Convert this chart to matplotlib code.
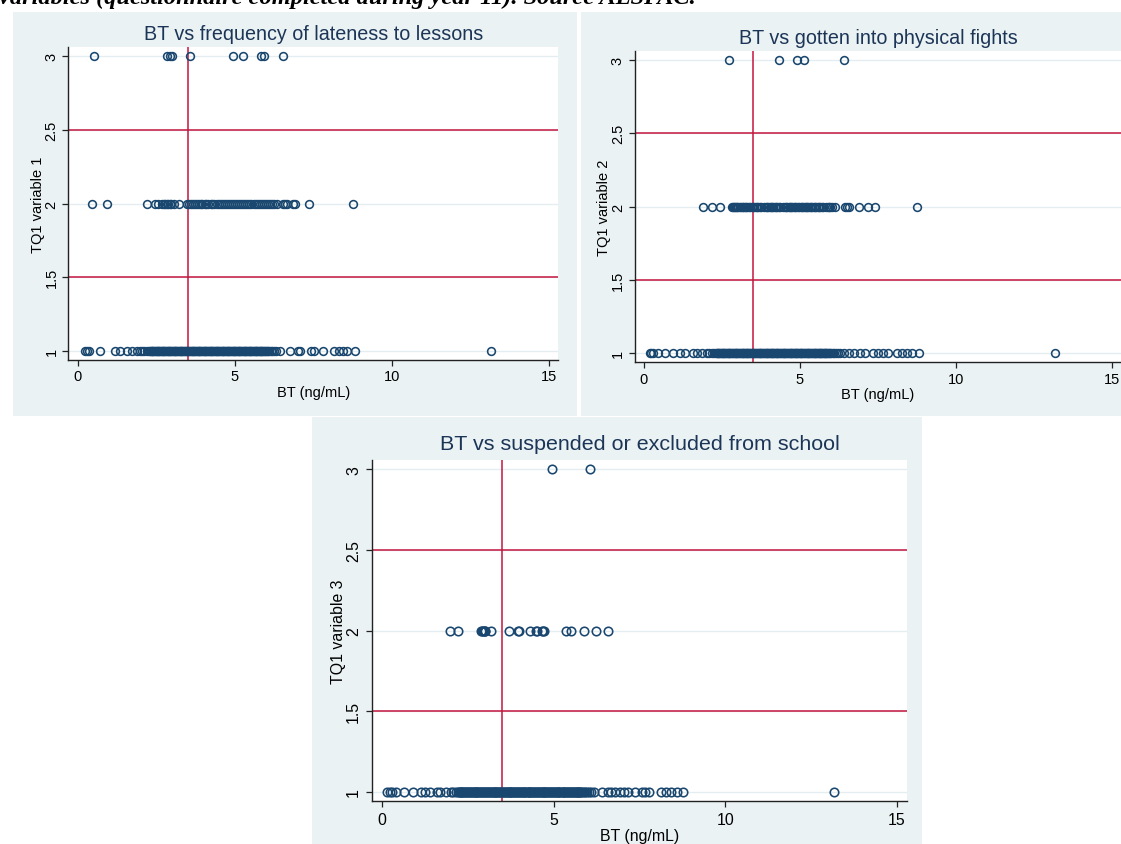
import matplotlib
matplotlib.use("Agg")
import matplotlib.pyplot as plt
from matplotlib.patches import Rectangle

# ---------------------------------------------------------------- data
titles = [
    "BT vs frequency of lateness to lessons",
    "BT vs gotten into physical fights",
    "BT vs suspended or excluded from school",
]
ylabels = ["TQ1 variable 1", "TQ1 variable 2", "TQ1 variable 3"]
xlabel = "BT (ng/mL)"
xticks = [0, 5, 10, 15]
yticks = [1, 1.5, 2, 2.5, 3]
ytick_labels = ["1", "1.5", "2", "2.5", "3"]
bt_cutoff = 3.5
category_cutoffs = [1.5, 2.5]
caption = "variables (questionnaire completed during year 11). Source ALSPAC."

# Panel 1: lateness to lessons (BT values per response category)
late_1 = [0.24, 0.30, 0.35, 0.72, 1.20, 1.36, 1.57, 1.73, 1.89, 1.97, 2.05, 2.12,
          2.21, 2.26, 2.30, 2.33, 2.35, 2.38, 2.41, 2.43, 2.46, 2.49, 2.52, 2.54,
          2.57, 2.60, 2.62, 2.65, 2.68, 2.71, 2.73, 2.76, 2.79, 2.81, 2.84, 2.87,
          2.90, 2.92, 2.95, 2.98, 3.00, 3.03, 3.06, 3.09, 3.11, 3.14, 3.17, 3.19,
          3.22, 3.25, 3.28, 3.30, 3.33, 3.36, 3.38, 3.41, 3.44, 3.47, 3.49, 3.52,
          3.55, 3.57, 3.60, 3.63, 3.66, 3.68, 3.71, 3.74, 3.76, 3.79, 3.82, 3.85,
          3.87, 3.90, 3.93, 3.95, 3.98, 4.01, 4.04, 4.06, 4.09, 4.12, 4.14, 4.17,
          4.20, 4.23, 4.25, 4.28, 4.31, 4.33, 4.36, 4.39, 4.42, 4.44, 4.47, 4.50,
          4.52, 4.55, 4.58, 4.61, 4.63, 4.66, 4.69, 4.71, 4.74, 4.77, 4.80, 4.82,
          4.85, 4.88, 4.90, 4.93, 4.96, 4.99, 5.01, 5.04, 5.07, 5.09, 5.12, 5.15,
          5.18, 5.20, 5.23, 5.26, 5.28, 5.31, 5.34, 5.37, 5.39, 5.42, 5.45, 5.47,
          5.50, 5.53, 5.56, 5.58, 5.61, 5.64, 5.66, 5.69, 5.72, 5.75, 5.77, 5.80,
          5.83, 5.85, 5.88, 5.91, 5.94, 5.96, 5.99, 6.02, 6.05, 6.09, 6.14, 6.19,
          6.25, 6.31, 6.44, 6.76, 7.00, 7.08, 7.42, 7.52, 7.82, 8.16, 8.33, 8.45,
          8.58, 8.82, 13.17]
late_2 = [0.46, 0.93, 2.22, 2.47, 2.57, 2.68, 2.74, 2.79, 2.84, 2.89, 2.93, 2.96,
          3.05, 3.21, 3.48, 3.54, 3.60, 3.66, 3.72, 3.79, 3.86, 3.91, 3.97, 4.04,
          4.09, 4.16, 4.23, 4.29, 4.35, 4.42, 4.49, 4.55, 4.62, 4.68, 4.75, 4.81,
          4.88, 4.94, 5.01, 5.07, 5.14, 5.20, 5.27, 5.33, 5.40, 5.46, 5.53, 5.60,
          5.66, 5.73, 5.80, 5.86, 5.92, 5.99, 6.06, 6.12, 6.19, 6.26, 6.34, 6.55,
          6.60, 6.65, 6.86, 6.92, 7.37, 8.75]
late_3 = [0.51, 2.84, 2.95, 3.01, 3.56, 4.94, 5.26, 5.84, 5.93, 6.55]

# Panel 2: physical fights
fight_1 = [0.19, 0.24, 0.30, 0.46, 0.67, 0.94, 1.16, 1.32, 1.58, 1.69, 1.85,
           2.01, 2.09, 2.17, 2.25, 2.30, 2.33, 2.36, 2.39, 2.41, 2.44, 2.47,
           2.50, 2.52, 2.55, 2.58, 2.61, 2.63, 2.66, 2.69, 2.72, 2.74, 2.77,
           2.80, 2.83, 2.85, 2.88, 2.91, 2.94, 2.96, 2.99, 3.02, 3.05, 3.07,
           3.10, 3.13, 3.16, 3.18, 3.21, 3.24, 3.27, 3.29, 3.32, 3.35, 3.38,
           3.40, 3.43, 3.46, 3.49, 3.51, 3.54, 3.57, 3.60, 3.62, 3.65, 3.68,
           3.71, 3.73, 3.76, 3.79, 3.82, 3.84, 3.87, 3.90, 3.93, 3.95, 3.98,
           4.01, 4.04, 4.06, 4.09, 4.12, 4.15, 4.17, 4.20, 4.23, 4.26, 4.28,
           4.31, 4.34, 4.37, 4.39, 4.42, 4.45, 4.48, 4.50, 4.53, 4.56, 4.59,
           4.61, 4.64, 4.67, 4.70, 4.72, 4.75, 4.78, 4.81, 4.83, 4.86, 4.89,
           4.92, 4.94, 4.97, 5.00, 5.03, 5.05, 5.08, 5.11, 5.14, 5.16, 5.19,
           5.22, 5.25, 5.27, 5.30, 5.33, 5.36, 5.38, 5.41, 5.44, 5.47, 5.49,
           5.52, 5.55, 5.58, 5.60, 5.63, 5.66, 5.69, 5.71, 5.74, 5.77, 5.80,
           5.82, 5.85, 5.88, 5.91, 5.94, 5.97, 6.01, 6.05, 6.10, 6.15, 6.21,
           6.29, 6.40, 6.56, 6.72, 6.93, 7.09, 7.36, 7.52, 7.68, 7.84, 8.11,
           8.27, 8.43, 8.59, 8.81, 13.17]
fight_2 = [1.90, 2.17, 2.44, 2.81, 2.84, 2.88, 2.92, 2.95, 2.99, 3.03, 3.07,
           3.12, 3.16, 3.19, 3.24, 3.28, 3.32, 3.36, 3.41, 3.45, 3.49, 3.54,
           3.58, 3.62, 3.67, 3.71, 3.75, 3.86, 3.90, 3.94, 3.98, 4.03, 4.07,
           4.11, 4.15, 4.20, 4.24, 4.28, 4.32, 4.37, 4.47, 4.51, 4.55, 4.59,
           4.64, 4.68, 4.72, 4.76, 4.81, 4.85, 4.89, 4.93, 4.98, 5.02, 5.06,
           5.10, 5.15, 5.19, 5.23, 5.27, 5.32, 5.36, 5.40, 5.44, 5.49, 5.53,
           5.57, 5.61, 5.66, 5.70, 5.74, 5.84, 5.89, 5.93, 5.98, 6.04, 6.13,
           6.45, 6.52, 6.56, 6.91, 7.17, 7.41, 8.75]
fight_3 = [2.74, 4.33, 4.90, 5.12, 6.40]

# Panel 3: suspended or excluded
susp_1 = [0.15, 0.23, 0.30, 0.40, 0.65, 0.90, 1.15, 1.25, 1.40, 1.60, 1.70,
          1.86, 2.01, 2.08, 2.16, 2.20, 2.23, 2.26, 2.29, 2.31, 2.34, 2.37,
          2.40, 2.42, 2.45, 2.48, 2.51, 2.53, 2.56, 2.59, 2.62, 2.64, 2.67,
          2.70, 2.73, 2.75, 2.78, 2.81, 2.84, 2.86, 2.89, 2.92, 2.95, 2.97,
          3.00, 3.03, 3.06, 3.08, 3.11, 3.14, 3.17, 3.19, 3.22, 3.25, 3.28,
          3.30, 3.33, 3.36, 3.39, 3.41, 3.44, 3.47, 3.50, 3.52, 3.55, 3.58,
          3.61, 3.63, 3.66, 3.69, 3.72, 3.74, 3.77, 3.80, 3.83, 3.85, 3.88,
          3.91, 3.94, 3.96, 3.99, 4.02, 4.05, 4.07, 4.10, 4.13, 4.16, 4.18,
          4.21, 4.24, 4.27, 4.29, 4.32, 4.35, 4.38, 4.40, 4.43, 4.46, 4.49,
          4.51, 4.54, 4.57, 4.60, 4.62, 4.65, 4.68, 4.71, 4.73, 4.76, 4.79,
          4.82, 4.84, 4.87, 4.90, 4.93, 4.95, 4.98, 5.01, 5.04, 5.06, 5.09,
          5.12, 5.15, 5.17, 5.20, 5.23, 5.26, 5.28, 5.31, 5.34, 5.37, 5.39,
          5.42, 5.45, 5.48, 5.50, 5.53, 5.56, 5.59, 5.61, 5.64, 5.67, 5.70,
          5.72, 5.75, 5.78, 5.81, 5.84, 5.88, 5.92, 5.97, 6.02, 6.08, 6.17,
          6.42, 6.57, 6.67, 6.79, 6.92, 7.05, 7.17, 7.37, 7.58, 7.67, 7.79,
          8.13, 8.28, 8.43, 8.58, 8.78, 13.17]
susp_2 = [1.98, 2.22, 2.88, 2.91, 2.94, 2.96, 2.99, 3.01, 3.18, 3.71, 3.96,
          3.99, 4.31, 4.50, 4.53, 4.66, 4.69, 4.71, 5.37, 5.52, 5.89, 6.22, 6.57]
susp_3 = [4.95, 6.07]

panel_series = [
    [(1, late_1), (2, late_2), (3, late_3)],
    [(1, fight_1), (2, fight_2), (3, fight_3)],
    [(1, susp_1), (2, susp_2), (3, susp_3)],
]

# ---------------------------------------------------------------- styling
W, H = 1121, 845
BG = "#eaf2f3"
NAVY = "#1a476f"
RED = "#c4163f"
TITLE_C = "#1c3557"
GRID = "#e4eef0"
SANS = ["Liberation Sans", "DejaVu Sans"]

fig = plt.figure(figsize=(W / 100, H / 100), dpi=100)
fig.patch.set_facecolor("white")


def fx(px):
    return px / W


def fy(py):
    return 1 - py / H


# outer (graph region) backgrounds: x0, y0, x1, y1 in pixels
backgrounds = [(13, 13, 577, 417), (581, 13, 1125, 417), (312, 418, 922, 850)]
for x0, y0, x1, y1 in backgrounds:
    fig.patches.append(Rectangle((fx(x0), fy(y1)), fx(x1 - x0), (y1 - y0) / H,
                                 transform=fig.transFigure, facecolor=BG,
                                 edgecolor="none", zorder=0))

# plot regions in pixels: left, top, right, bottom ; plus scale factor
layouts = [
    dict(box=(68.3, 48.3, 558.3, 360.7), s=1.0, title_y=35),
    dict(box=(634.6, 52.2, 1121.1, 362.8), s=1.0, title_y=39),
    dict(box=(371.7, 460.8, 907.2, 802.2), s=1.09, title_y=445),
]

for i, lay in enumerate(layouts):
    l, t, r, b = lay["box"]
    s = lay["s"]
    ax = fig.add_axes([fx(l), fy(b), fx(r - l), (b - t) / H])
    ax.set_facecolor("white")
    ax.set_zorder(2)

    for yv in yticks:
        ax.axhline(yv, color=GRID, lw=1.0, zorder=1)
    for yc in category_cutoffs:
        ax.axhline(yc, color=RED, lw=1.1, zorder=2)
    ax.axvline(bt_cutoff, color=RED, lw=1.1, zorder=2)

    for level, values in panel_series[i]:
        ax.plot(values, [level] * len(values), linestyle="none", marker="o",
                mfc="none", mec=NAVY, ms=5.6 * s, mew=1.15, zorder=3,
                clip_on=False)

    ax.set_xlim(-0.3, 15.3)
    ax.set_ylim(0.94, 3.06)
    ax.set_xticks(xticks)
    ax.set_xticklabels([str(v) for v in xticks])
    ax.set_yticks(yticks)
    ax.set_yticklabels(ytick_labels)
    for sp in ("top", "right"):
        ax.spines[sp].set_visible(False)
    for sp in ("left", "bottom"):
        ax.spines[sp].set_color("#222222")
        ax.spines[sp].set_linewidth(1.0)
    ax.tick_params(axis="both", length=4 * s, width=0.9, color="#222222",
                   labelsize=10.5 * s, pad=3 * s)
    for lbl in ax.get_yticklabels() + ax.get_xticklabels():
        lbl.set_family(SANS)
    for lbl in ax.get_yticklabels():
        lbl.set_rotation(90)
        lbl.set_va("center")

    ax.set_xlabel(xlabel, fontsize=10.5 * s, family=SANS, labelpad=1)
    ax.set_ylabel(ylabels[i], fontsize=10.5 * s, family=SANS, labelpad=0)

    fig.text(fx((l + r) / 2 if i != 1 else 878), fy(lay["title_y"]), titles[i],
             ha="center", va="center", fontsize=14.2 * s, color=TITLE_C,
             family=SANS)

fig.text(fx(-1), fy(4), caption, ha="left", va="baseline", fontsize=17.6,
         family=["Liberation Serif", "DejaVu Serif"], fontweight="bold",
         fontstyle="italic", color="black")

fig.savefig("out.png", dpi=100, facecolor="white")
